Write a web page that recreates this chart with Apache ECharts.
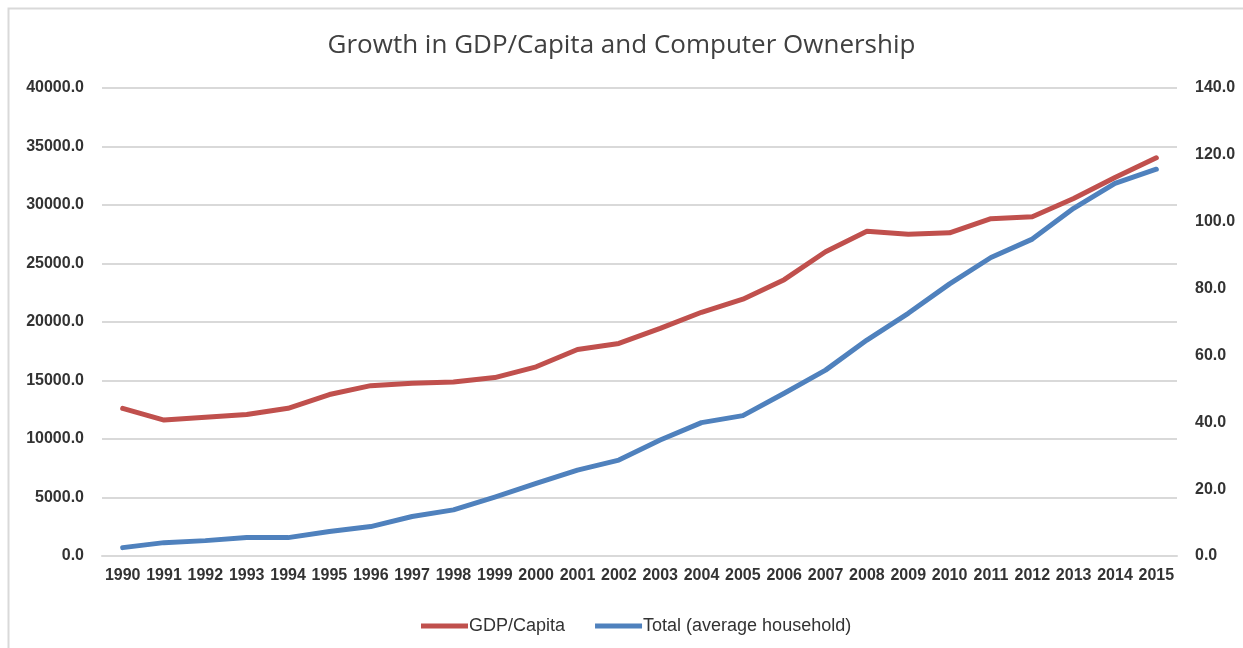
<!DOCTYPE html>
<html>
<head>
<meta charset="utf-8">
<title>Growth in GDP/Capita and Computer Ownership</title>
<script src="https://cdn.jsdelivr.net/npm/echarts@6/dist/echarts.min.js"></script>
<style>
  html, body { margin: 0; padding: 0; background: #fff; overflow: hidden; }
  #chart { width: 1243px; height: 648px; }
</style>
</head>
<body>
<div id="chart"></div>
<script>
// years on the x axis
var years = ['1990', '1991', '1992', '1993', '1994', '1995', '1996', '1997', '1998', '1999',
  '2000', '2001', '2002', '2003', '2004', '2005', '2006', '2007', '2008', '2009',
  '2010', '2011', '2012', '2013', '2014', '2015']

// GDP per capita (left axis)
var gdpPerCapita = [12620, 11620, 11850, 12100, 12620, 13800, 14560, 14760, 14870, 15250,
  16170, 17650, 18170, 19450, 20830, 21950, 23620, 26000, 27750, 27500,
  27620, 28830, 29000, 30550, 32350, 34040]

// computers per average household (right axis)
var computerTotal = [2.5, 4.0, 4.6, 5.5, 5.5, 7.3, 8.8, 11.8, 13.8, 17.6,
  21.7, 25.7, 28.7, 34.7, 39.9, 42.0, 48.7, 55.6, 64.6, 72.6,
  81.4, 89.3, 94.8, 104.0, 111.5, 115.7]

var seriesNames = ['GDP/Capita', 'Total (average household)']

var chart = echarts.init(document.getElementById('chart'))

var labelFont = {
  color: '#333333',
  fontFamily: 'Liberation Sans',
  fontWeight: 'bold',
  fontSize: 16
}

var option = {
  animation: false,
  backgroundColor: '#fff',
  color: ['#c0504d', '#4f81bd'],
  graphic: [{
    type: 'rect',
    left: 6,
    top: 6,
    shape: { width: 1400, height: 800 },
    style: { fill: 'none', stroke: '#d9d9d9', lineWidth: 2 },
    silent: true
  }],
  title: {
    text: 'Growth in GDP/Capita and Computer Ownership',
    left: 'center',
    top: 28,
    textStyle: {
      color: '#404040',
      fontFamily: 'Open Sans',
      fontWeight: 'normal',
      fontSize: 26
    }
  },
  legend: {
    data: seriesNames,
    bottom: 8,
    left: 416,
    icon: 'rect',
    itemWidth: 47,
    itemHeight: 5,
    itemGap: 30,
    textStyle: {
      color: '#333333',
      fontFamily: 'Liberation Sans',
      fontSize: 18,
      padding: [0, 0, 0, -4]
    }
  },
  grid: {
    left: 102,
    right: 66,
    top: 88,
    bottom: 92,
    containLabel: false
  },
  xAxis: {
    type: 'category',
    data: years,
    boundaryGap: true,
    axisTick: { show: false },
    axisLine: { lineStyle: { color: '#d9d9d9', width: 2 } },
    axisLabel: Object.assign({ margin: 12, interval: 0 }, labelFont)
  },
  yAxis: [{
    type: 'value',
    min: 0,
    max: 40000,
    interval: 5000,
    axisLine: { show: false },
    axisTick: { show: false },
    splitLine: { lineStyle: { color: '#d9d9d9', width: 2 } },
    axisLabel: Object.assign({
      margin: 18,
      formatter: function (v) { return v.toFixed(1) }
    }, labelFont)
  }, {
    type: 'value',
    min: 0,
    max: 140,
    interval: 20,
    axisLine: { show: false },
    axisTick: { show: false },
    splitLine: { show: false },
    axisLabel: Object.assign({
      margin: 18,
      formatter: function (v) { return v.toFixed(1) }
    }, labelFont)
  }],
  series: [{
    name: seriesNames[0],
    type: 'line',
    yAxisIndex: 0,
    data: gdpPerCapita,
    showSymbol: false,
    lineStyle: { width: 5, cap: 'round', join: 'round' }
  }, {
    name: seriesNames[1],
    type: 'line',
    yAxisIndex: 1,
    data: computerTotal,
    showSymbol: false,
    lineStyle: { width: 5, cap: 'round', join: 'round' }
  }]
}

chart.setOption(option)
</script>
</body>
</html>
